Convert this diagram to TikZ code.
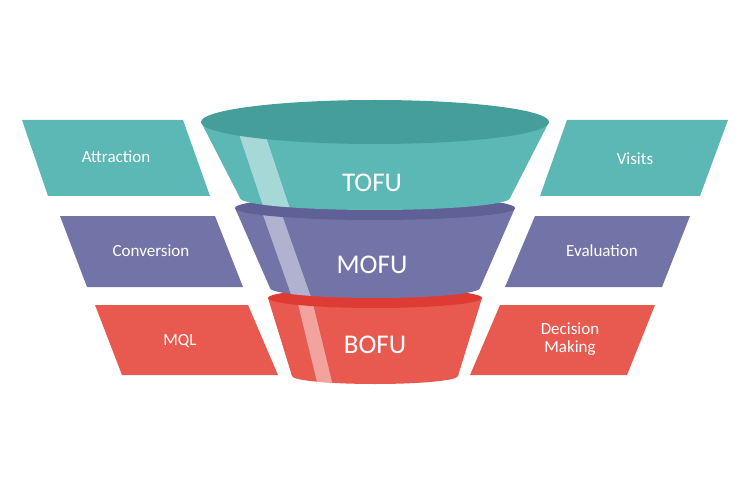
\documentclass[tikz,border=0pt]{standalone}
\usepackage{fontspec}
\setmainfont{Carlito}
\begin{document}
\begin{tikzpicture}[x=1pt,y=-1pt,
  lab/.style={text=white,font=\fontsize{17}{20}\selectfont,align=center},
  big/.style={text=white,font=\fontsize{27}{30}\selectfont},
  hl/.style={fill=white,opacity=0.45}]
\definecolor{teal1}{HTML}{5CB8B5}\definecolor{teal2}{HTML}{469E9B}
\definecolor{pur1}{HTML}{7274A8}\definecolor{pur2}{HTML}{5F6096}
\definecolor{red1}{HTML}{E8594F}\definecolor{red2}{HTML}{DF3B35}
\useasboundingbox (0,0) rectangle (750,500);
% side panels
\fill[teal1] (22,120)--(183,120)--(210,196)--(48,196)--cycle;
\fill[pur1] (60,216)--(215,216)--(243,287)--(87,287)--cycle;
\fill[red1] (95,305)--(248,305)--(278,375)--(122,375)--cycle;
\fill[teal1] (567,120)--(728,120)--(700,196)--(540,196)--cycle;
\fill[pur1] (535,216)--(690,216)--(662,287)--(505,287)--cycle;
\fill[red1] (500,305)--(655,305)--(627,375)--(470,375)--cycle;
\node[lab] (att) at (116,157) {Attraction};
\node[lab] (con) at (151,251) {Conversion};
\node[lab] (mql) at (180,341) {MQL};
\node[lab] (vis) at (635,159) {Visits};
\node[lab] (eva) at (602,251) {Evaluation};
\node[lab] (dec) at (570,339) {Decision\\[-2pt]Making};
% BOFU
\fill[red1] (268,298)--(292,376) arc[start angle=180,end angle=0,x radius=83,y radius=8]--(482,298)--cycle;
\begin{scope}
\clip (268,298)--(292,376) arc[start angle=180,end angle=0,x radius=83,y radius=8]--(482,298)--cycle;
\fill[hl] (297,300)--(312,300)--(334,390)--(319,390)--cycle;
\end{scope}
\fill[red2] (375,298) ellipse[x radius=107,y radius=10];
% MOFU
\fill[pur1] (235,208)--(270,288) arc[start angle=180,end angle=0,x radius=105,y radius=10]--(515,208)--cycle;
\begin{scope}
\clip (235,208)--(270,288) arc[start angle=180,end angle=0,x radius=105,y radius=10]--(515,208)--cycle;
\fill[hl] (262,212)--(281,212)--(312,300)--(293,300)--cycle;
\end{scope}
\fill[pur2] (375,208) ellipse[x radius=140,y radius=12];
% TOFU
\fill[teal1] (201,122)--(240,198) arc[start angle=180,end angle=0,x radius=135,y radius=12]--(549,122)--cycle;
\begin{scope}
\clip (201,122)--(240,198) arc[start angle=180,end angle=0,x radius=135,y radius=12]--(549,122)--cycle;
\fill[hl] (236,125)--(262,125)--(292,215)--(266,215)--cycle;
\end{scope}
\fill[teal2] (375,122) ellipse[x radius=174,y radius=22];
\node[big] (tofu) at (372,183) {TOFU};
\node[big] (mofu) at (372,265) {MOFU};
\node[big] (bofu) at (375,345) {BOFU};
\end{tikzpicture}
\end{document}
